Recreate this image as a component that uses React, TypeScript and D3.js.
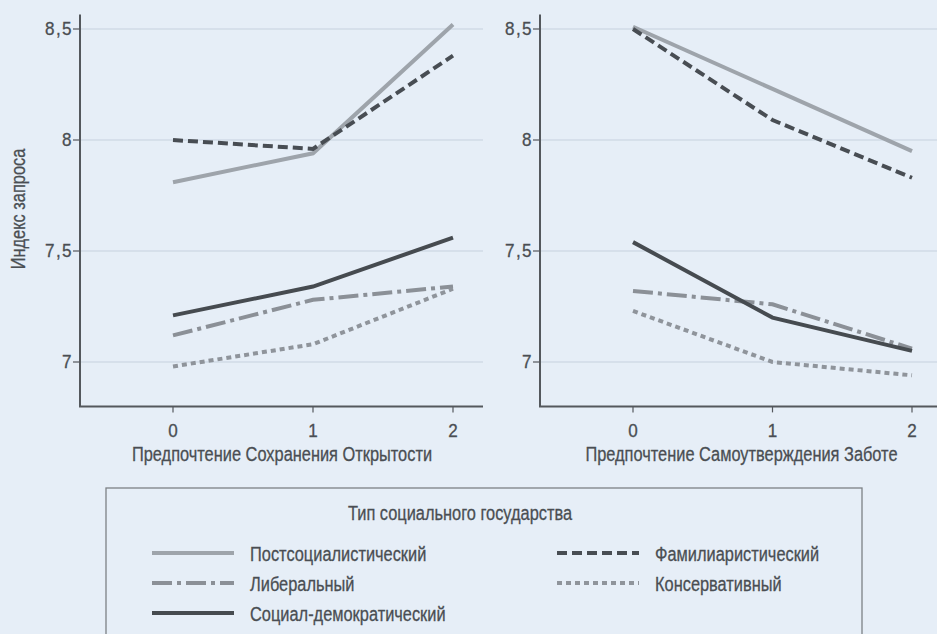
import React from "react";
import * as d3 from "d3";

const xTicks = [0, 1, 2];
const yTicks = [7, 7.5, 8, 8.5];
const yTickLabels = ["7", "7,5", "8", "8,5"];
const seriesNames = [
  "Постсоциалистический",
  "Либеральный",
  "Социал-демократический",
  "Фамилиаристический",
  "Консервативный",
];
// left panel: Предпочтение Сохранения Открытости
const leftPostsoc = [7.81, 7.94, 8.52];
const leftLiberal = [7.12, 7.28, 7.34];
const leftSocdem = [7.21, 7.34, 7.56];
const leftFamil = [8.0, 7.96, 8.38];
const leftConserv = [6.98, 7.08, 7.33];
// right panel: Предпочтение Самоутверждения Заботе
const rightPostsoc = [8.51, 8.23, 7.95];
const rightLiberal = [7.32, 7.26, 7.06];
const rightSocdem = [7.54, 7.2, 7.05];
const rightFamil = [8.5, 8.09, 7.83];
const rightConserv = [7.23, 7.0, 6.94];

const leftTitle = "Предпочтение Сохранения Открытости";
const rightTitle = "Предпочтение Самоутверждения Заботе";
const yTitle = "Индекс запроса";
const legendTitle = "Тип социального государства";

const styles = [
  { color: "#9ea4ab", dash: null },
  { color: "#8b9097", dash: "20 5 4 5" },
  { color: "#464b50", dash: null },
  { color: "#484d53", dash: "10 5" },
  { color: "#8f949b", dash: "5 4" },
];

const FONT = "'Liberation Sans', Arial, sans-serif";
const FS = 21;
const SX = 0.78;
const TXT = "#4a4e53";
const W = 937;
const H = 634;

const y = d3.scaleLinear().domain([7, 8.5]).range([362, 29]);

function T({ x, y, anchor = "start", rotate = 0, size = FS, sx = SX, spacing = 0, children }) {
  return (
    <g transform={`translate(${x},${y}) rotate(${rotate}) scale(${sx},1)`}>
      <text
        x={0}
        y={0}
        dy="0.36em"
        textAnchor={anchor}
        fontSize={size}
        letterSpacing={spacing}
        fill={TXT}
        stroke={TXT}
        strokeWidth={0.3}
        fontFamily={FONT}
      >
        {children}
      </text>
    </g>
  );
}

function Panel({ axisX, x, xEnd, title, data }) {
  const line = d3
    .line<number>()
    .x((_, i) => x(i))
    .y((d) => y(d));
  const yTop = y(8.565);
  const yBot = y(6.8);
  return (
    <g>
      {yTicks.map((t) => (
        <line key={"g" + t} x1={axisX} x2={xEnd} y1={y(t)} y2={y(t)} stroke="#c6d1de" strokeWidth={1} />
      ))}
      <line x1={axisX} x2={axisX} y1={yTop} y2={yBot} stroke="#54585d" strokeWidth={2} />
      <line x1={axisX - 1} x2={xEnd} y1={yBot} y2={yBot} stroke="#54585d" strokeWidth={2} />
      {yTicks.map((t, i) => (
        <g key={"t" + t}>
          <line x1={axisX - 7} x2={axisX} y1={y(t)} y2={y(t)} stroke="#54585d" strokeWidth={1.2} />
          <T x={axisX - 7} y={y(t)} anchor="end" size={18} sx={0.95} spacing={1.5}>
            {yTickLabels[i]}
          </T>
        </g>
      ))}
      {xTicks.map((t) => (
        <g key={"x" + t}>
          <line x1={x(t)} x2={x(t)} y1={yBot} y2={yBot + 6} stroke="#54585d" strokeWidth={1.2} />
          <T x={x(t)} y={431} anchor="middle" size={18} sx={0.95}>
            {t}
          </T>
        </g>
      ))}
      <T x={(x(0) + x(2)) / 2 - 31} y={453} anchor="middle">
        {title}
      </T>
      {data.map((d, i) => (
        <path
          key={"s" + i}
          d={line(d) || ""}
          fill="none"
          stroke={styles[i].color}
          strokeWidth={4}
          strokeDasharray={styles[i].dash || undefined}
        />
      ))}
    </g>
  );
}

export default function App() {
  const xL = d3.scaleLinear().domain([0, 2]).range([173, 453]);
  const xR = d3.scaleLinear().domain([0, 2]).range([633, 912]);
  const leftData = [leftPostsoc, leftLiberal, leftSocdem, leftFamil, leftConserv];
  const rightData = [rightPostsoc, rightLiberal, rightSocdem, rightFamil, rightConserv];
  const legendRows = [553, 583, 613];
  const legendPos = [
    { col: 0, row: 0 },
    { col: 0, row: 1 },
    { col: 0, row: 2 },
    { col: 1, row: 0 },
    { col: 1, row: 1 },
  ];
  const colX = [152, 557];
  return (
    <svg width={W} height={H} style={{ position: "absolute", left: 0, top: 0, background: "#e6eef7" }}>
      <rect x={0} y={0} width={W} height={H} fill="#e6eef7" />
      <Panel axisX={80} x={xL} xEnd={483} title={leftTitle} data={leftData} />
      <Panel axisX={540} x={xR} xEnd={W} title={rightTitle} data={rightData} />
      <T x={17} y={209} rotate={-90} anchor="middle">
        {yTitle}
      </T>
      <rect x={106} y={488} width={756} height={160} fill="none" stroke="#7d8186" strokeWidth={1.3} />
      <T x={460} y={512} anchor="middle">
        {legendTitle}
      </T>
      {seriesNames.map((n, i) => {
        const p = legendPos[i];
        const lx = colX[p.col];
        const ly = legendRows[p.row];
        return (
          <g key={n}>
            <line x1={lx} x2={lx + 82} y1={ly} y2={ly} stroke={styles[i].color} strokeWidth={4} strokeDasharray={styles[i].dash || undefined} />
            <T x={lx + 98} y={ly}>
              {n}
            </T>
          </g>
        );
      })}
    </svg>
  );
}
